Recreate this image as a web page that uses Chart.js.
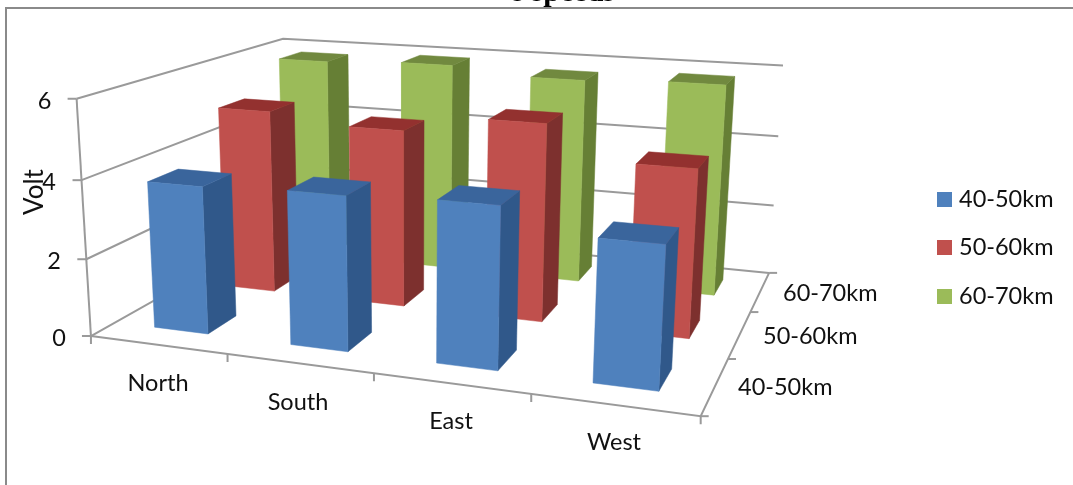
<!DOCTYPE html>
<html>
<head>
<meta charset="utf-8">
<title>Volt by region</title>
<style>
    html, body { margin: 0; padding: 0; background: #fff; }
    canvas { display: block; }
</style>
<script src="https://cdn.jsdelivr.net/npm/chart.js@4/dist/chart.umd.js"></script>
</head>
<body>
<canvas id="myChart" width="1073" height="485"></canvas>
<script>
const categories = ['North', 'South', 'East', 'West']
const seriesNames = ['40-50km', '50-60km', '60-70km']
const values4050 = [3.8, 3.9, 4.0, 3.45]
const values5060 = [5.0, 4.75, 5.2, 4.35]
const values6070 = [5.8, 5.9, 5.7, 5.8]
const yTicks = [0, 2, 4, 6]

const seriesValues = [values4050, values5060, values6070]
const yMax = 6

const frontColors = ['#4f81bd', '#c0504d', '#9bbb59']
const sideColors = ['#30588a', '#7d302e', '#667f35']
const topColors = ['#3a659c', '#93312f', '#71893f']
const gridColor = '#9a9a9a'
const textFont = '23.5px Lato'

// points of the plot box (x along categories, z into the page, y up) and where they land on screen
const anchors = [
    [0, 0, 0, 91.6, 336.7],
    [0.25, 0, 0, 227, 354],
    [0.5, 0, 0, 373, 373],
    [0.75, 0, 0, 531, 393.6],
    [1, 0, 0, 701.7, 415.7],
    [1, 1, 0, 769, 273],
    [0, 1, 0, 287.5, 225.5],
    [0, 0, 1, 76.7, 99],
    [1, 1, 1, 783, 66],
    [0, 1, 1, 283, 38]
]

const solve = (A, b) => {
    const n = b.length
    const m = A.map((row, i) => [...row, b[i]])
    for (let c = 0; c < n; c++) {
        let p = c
        for (let r = c + 1; r < n; r++) {
            if (Math.abs(m[r][c]) > Math.abs(m[p][c])) p = r
        }
        [m[c], m[p]] = [m[p], m[c]]
        for (let r = 0; r < n; r++) {
            if (r === c) continue
            const f = m[r][c] / m[c][c]
            for (let k = c; k <= n; k++) m[r][k] -= f * m[c][k]
        }
    }
    return m.map((row, i) => row[n] / row[i])
}

// least squares fit of the 3x4 camera matrix
const fitCamera = () => {
    const rows = []
    const rhs = []
    anchors.forEach(([x, z, y, u, v]) => {
        rows.push([x, z, y, 1, 0, 0, 0, 0, -u * x, -u * z, -u * y])
        rhs.push(u)
        rows.push([0, 0, 0, 0, x, z, y, 1, -v * x, -v * z, -v * y])
        rhs.push(v)
    })
    const n = 11
    const AtA = Array.from({ length: n }, (_, i) =>
        Array.from({ length: n }, (_, j) => rows.reduce((s, r) => s + r[i] * r[j], 0)))
    const Atb = Array.from({ length: n }, (_, i) => rows.reduce((s, r, k) => s + r[i] * rhs[k], 0))
    return solve(AtA, Atb)
}

const cam = fitCamera()

const project = (x, z, y) => {
    const w = cam[8] * x + cam[9] * z + cam[10] * y + 1
    return {
        x: (cam[0] * x + cam[1] * z + cam[2] * y + cam[3]) / w,
        y: (cam[4] * x + cam[5] * z + cam[6] * y + cam[7]) / w
    }
}

const lineSet = (points, color = gridColor, width = 2) => ({
    data: points,
    borderColor: color,
    borderWidth: width,
    pointRadius: 0,
    fill: false
})

const faceSet = (points, color) => ({
    data: [...points, points[0]],
    borderColor: color,
    backgroundColor: color,
    borderWidth: 0.5,
    pointRadius: 0,
    fill: 'shape'
})

const offset = (p, dx, dy) => ({ x: p.x + dx, y: p.y + dy })

const buildDatasets = () => {
    const sets = []

    // walls and floor outline
    yTicks.forEach(t => {
        const y = t / yMax
        sets.push(lineSet([project(0, 0, y), project(0, 1, y), project(1, 1, y)]))
        sets.push(lineSet([offset(project(0, 0, y), -9, 0), project(0, 0, y)]))
    })
    sets.push(lineSet([project(0, 0, 0), project(0, 0, 1)]))
    sets.push(lineSet([project(0, 0, 0), project(1, 0, 0), project(1, 1, 0)]))

    // tick marks along the floor
    categories.forEach((c, i) => {
        const p = project((i + 1) / categories.length, 0, 0)
        sets.push(lineSet([p, offset(p, 0, 8)]))
    })
    sets.push(lineSet([project(0, 0, 0), offset(project(0, 0, 0), 0, 8)]))
    seriesNames.forEach((s, j) => {
        const p = project(1, (j + 1) / seriesNames.length, 0)
        sets.push(lineSet([p, offset(p, 8, 0)]))
    })
    sets.push(lineSet([project(1, 0, 0), offset(project(1, 0, 0), 8, 0)]))

    // bars, back row first so the nearer ones cover it
    for (let j = seriesNames.length - 1; j >= 0; j--) {
        categories.forEach((c, i) => {
            const v = seriesValues[j][i] / yMax
            const x0 = (i + 0.3) / categories.length
            const x1 = (i + 0.7) / categories.length
            const z0 = (j + 0.3) / seriesNames.length
            const z1 = (j + 0.7) / seriesNames.length
            sets.push(faceSet([project(x1, z0, 0), project(x1, z1, 0), project(x1, z1, v), project(x1, z0, v)], sideColors[j]))
            sets.push(faceSet([project(x0, z0, v), project(x1, z0, v), project(x1, z1, v), project(x0, z1, v)], topColors[j]))
            sets.push(faceSet([project(x0, z0, 0), project(x1, z0, 0), project(x1, z0, v), project(x0, z0, v)], frontColors[j]))
        })
    }

    // chart.js paints the first dataset last
    return sets.reverse()
}

const yLabelPos = [[59, 338], [54, 261], [49, 182], [44.5, 101]]
const catLabelPos = [[158, 383], [298, 402], [451, 421], [614, 442]]
const depthLabelPos = [[738, 387], [763, 336], [783, 293]]
const legendRows = [199.5, 247.5, 296.5]

const chartText = {
    id: 'chartText',
    beforeDraw: chart => {
        const { ctx } = chart
        ctx.save()
        ctx.fillStyle = '#fff'
        ctx.fillRect(0, 0, 1073, 485)
        ctx.restore()
    },
    afterDraw: chart => {
        const { ctx } = chart
        ctx.save()

        // heading sits mostly above the frame
        ctx.fillStyle = '#000'
        ctx.font = 'bold 30px "Liberation Serif"'
        ctx.textAlign = 'right'
        ctx.textBaseline = 'alphabetic'
        ctx.fillText('s speeds', 615, 1)

        ctx.strokeStyle = '#8a8a8a'
        ctx.lineWidth = 2
        ctx.beginPath()
        ctx.moveTo(6, 485)
        ctx.lineTo(6, 8)
        ctx.lineTo(1073, 8)
        ctx.stroke()

        ctx.fillStyle = '#111'
        ctx.font = textFont
        ctx.textBaseline = 'middle'
        ctx.textAlign = 'center'
        yTicks.forEach((t, i) => ctx.fillText(String(t), yLabelPos[i][0], yLabelPos[i][1]))
        categories.forEach((c, i) => ctx.fillText(c, catLabelPos[i][0], catLabelPos[i][1]))

        ctx.textAlign = 'left'
        seriesNames.forEach((s, j) => ctx.fillText(s, depthLabelPos[j][0], depthLabelPos[j][1]))

        seriesNames.forEach((s, j) => {
            ctx.fillStyle = frontColors[j]
            ctx.fillRect(937, legendRows[j] - 7.5, 15, 15)
            ctx.fillStyle = '#111'
            ctx.fillText(s, 959, legendRows[j])
        })

        ctx.translate(35, 192)
        ctx.rotate(-Math.PI / 2)
        ctx.textAlign = 'center'
        ctx.font = '26px Lato'
        ctx.fillText('Volt', 0, 0)
        ctx.restore()
    }
}

new Chart(document.getElementById('myChart'), {
    type: 'line',
    data: { datasets: buildDatasets() },
    options: {
        responsive: false,
        animation: false,
        clip: false,
        layout: { padding: 0 },
        plugins: {
            legend: { display: false },
            tooltip: { enabled: false }
        },
        scales: {
            x: { type: 'linear', display: false, min: 0, max: 1073 },
            y: { type: 'linear', display: false, min: 0, max: 485, reverse: true }
        }
    },
    plugins: [chartText]
})
</script>
</body>
</html>
